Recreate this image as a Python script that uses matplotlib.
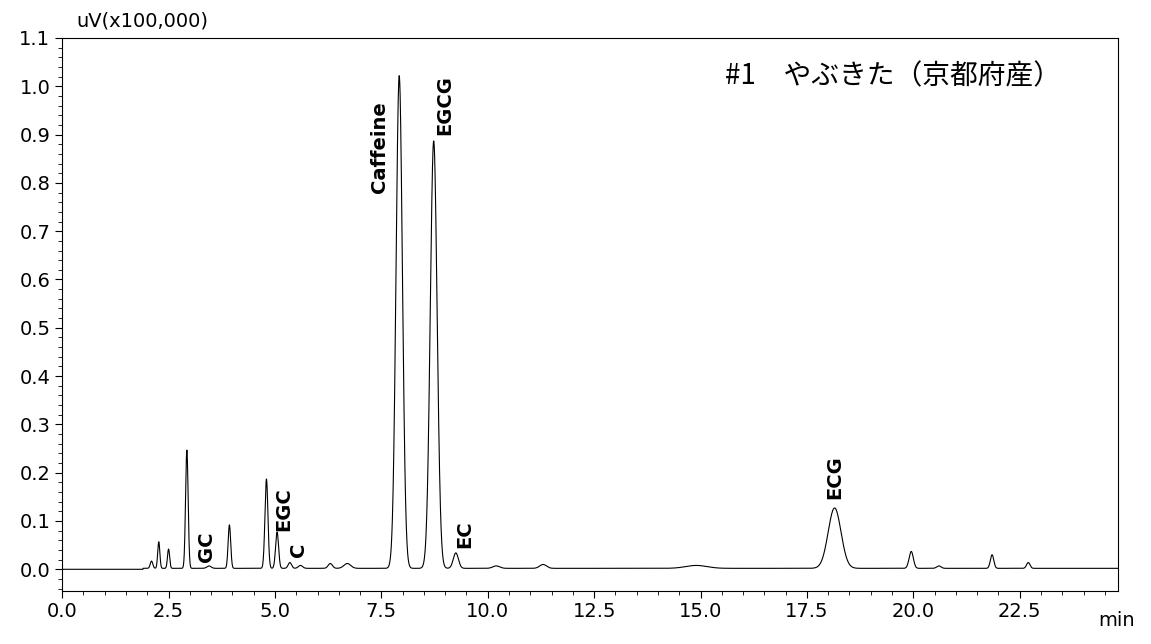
import matplotlib.pyplot as plt
import numpy as np
from matplotlib.ticker import MultipleLocator

plt.rcParams['font.family'] = ['DejaVu Sans', 'Noto Sans CJK JP']

# peak table: retention time (min), height, width (sigma, min)
peak_rt = [2.1, 2.27, 2.5, 2.93, 3.45, 3.93, 4.8, 5.05, 5.35, 5.6, 6.3, 6.7,
           7.92, 8.73, 9.25, 10.2, 11.3, 14.9, 18.15, 19.95, 20.6, 21.85, 22.7]
peak_h = [0.015, 0.055, 0.04, 0.245, 0.005, 0.09, 0.185, 0.075, 0.012, 0.006, 0.01, 0.01,
          1.02, 0.885, 0.032, 0.005, 0.008, 0.006, 0.125, 0.035, 0.005, 0.028, 0.012]
peak_w = [0.03, 0.025, 0.025, 0.03, 0.05, 0.03, 0.035, 0.035, 0.04, 0.05, 0.05, 0.08,
          0.075, 0.08, 0.06, 0.08, 0.08, 0.25, 0.15, 0.05, 0.05, 0.04, 0.04]

labels = ['GC', 'EGC', 'C', 'Caffeine', 'EGCG', 'EC', 'ECG']
label_x = [3.4, 5.2, 5.55, 7.45, 9.0, 9.45, 18.15]
label_y = [0.015, 0.08, 0.025, 0.78, 0.9, 0.045, 0.145]

t = np.linspace(0, 24.8, 6000)
signal = np.zeros_like(t)
for rt, h, w in zip(peak_rt, peak_h, peak_w):
    signal += h * np.exp(-0.5 * ((t - rt) / w) ** 2)
signal += np.where(t > 1.9, 0.002, 0.0)

fig = plt.figure(figsize=(11.51, 6.44), dpi=100)
ax = fig.add_axes([0.054, 0.083, 0.917, 0.858])
ax.plot(t, signal, color='black', lw=0.8)
ax.set_xlim(0, 24.8)
ax.set_ylim(-0.044, 1.1)
ax.xaxis.set_major_locator(MultipleLocator(2.5))
ax.xaxis.set_minor_locator(MultipleLocator(0.5))
ax.yaxis.set_major_locator(MultipleLocator(0.1))
ax.yaxis.set_minor_locator(MultipleLocator(0.02))
ax.xaxis.set_major_formatter(plt.FuncFormatter(lambda v, p: f'{v:.1f}'))
ax.yaxis.set_major_formatter(plt.FuncFormatter(lambda v, p: f'{v:.1f}'))
ax.tick_params(labelsize=14)
ax.tick_params(which='major', length=5)
ax.tick_params(which='minor', length=3)

for name, x, y in zip(labels, label_x, label_y):
    ax.text(x, y, name, rotation=90, ha='center', va='bottom', fontsize=14,
            fontweight='bold')

fig.text(0.066, 0.953, 'uV(x100,000)', fontsize=14, ha='left', va='bottom')
fig.text(0.986, 0.052, 'min', fontsize=14, ha='right', va='top')
ax.text(0.628, 0.93, '#1　やぶきた（京都府産）', transform=ax.transAxes,
        fontsize=20, ha='left', va='center', family=['Noto Sans CJK JP'])

fig.savefig('out.png', dpi=100)
